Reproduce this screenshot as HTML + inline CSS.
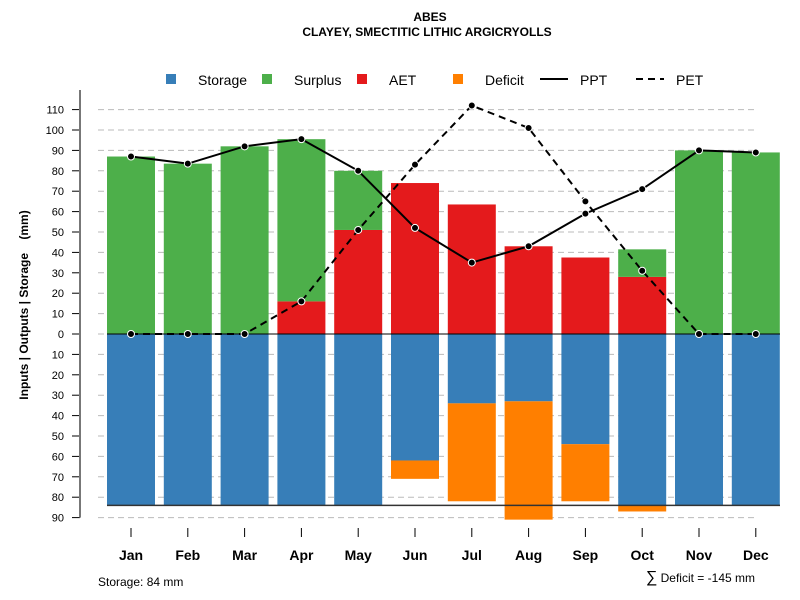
<!DOCTYPE html>
<html><head><meta charset="utf-8"><style>
body{margin:0;background:#fff;}
svg{display:block;font-family:"Liberation Sans",sans-serif;}
</style></head><body>
<svg id="chart" width="800" height="600">
<text x="430" y="21" text-anchor="middle" font-size="12" font-weight="bold">ABES</text>
<text x="427" y="36" text-anchor="middle" font-size="12" font-weight="bold">CLAYEY, SMECTITIC LITHIC ARGICRYOLLS</text>
<g id="grid"></g><g id="bars"></g><g id="lines"></g><g id="axes"></g>
<g font-size="14">
<rect x="166" y="74" width="10" height="10" fill="#377eb8"/>
<text x="198" y="85">Storage</text>
<rect x="262" y="74" width="10" height="10" fill="#4daf4a"/>
<text x="294" y="85">Surplus</text>
<rect x="357" y="74" width="10" height="10" fill="#e41a1c"/>
<text x="389" y="85">AET</text>
<rect x="453" y="74" width="10" height="10" fill="#ff7f00"/>
<text x="485" y="85">Deficit</text>
<line x1="540" y1="79" x2="568" y2="79" stroke="#000" stroke-width="2"/>
<text x="580" y="85">PPT</text>
<line x1="636" y1="79" x2="664" y2="79" stroke="#000" stroke-width="2" stroke-dasharray="7,5"/>
<text x="676" y="85">PET</text>
</g>
<text x="28" y="305" transform="rotate(-90 28 305)" text-anchor="middle" font-size="12" font-weight="bold" style="white-space:pre">Inputs | Outputs | Storage    (mm)</text>
<text x="98" y="586" font-size="12">Storage: 84 mm</text>
<text x="755" y="582" text-anchor="end" font-size="12"><tspan font-size="16">∑</tspan> Deficit = -145 mm</text>
</svg>
<script>
const months=["Jan","Feb","Mar","Apr","May","Jun","Jul","Aug","Sep","Oct","Nov","Dec"];
const storage=[84,84,84,84,84,62,34,33,54,84,84,84];
const deficit=[0,0,0,0,0,9,48,58,28,3,0,0];
const aet=[0,0,0,16,51,74,63.5,43,37.5,28,0,0];
const surplus=[87,83.5,92,79.5,29,0,0,0,0,13.5,90,89];
const ppt=[87,83.5,92,95.5,80,52,35,43,59,71,90,89];
const pet=[0,0,0,16,51,83,112,101,65,31,0,0];
const topTicks=[0,10,20,30,40,50,60,70,80,90,100,110];
const botTicks=[10,20,30,40,50,60,70,80,90];
const soilCap=84;
const NS="http://www.w3.org/2000/svg";
const y0=334,k=2.04;
const yUp=v=>y0-v*k, yDn=v=>y0+v*k;
const xc=i=>131+i*56.8, bw=48;
function mk(t,a,p){const e=document.createElementNS(NS,t);for(const q in a)e.setAttribute(q,a[q]);document.getElementById(p).appendChild(e);return e;}
topTicks.forEach(v=>{
 const g=mk("line",{x1:98,x2:755,y1:yUp(v),y2:yUp(v),stroke:"#bbb","stroke-dasharray":"6,4"},"grid");
 
 
 const t=mk("line",{x1:72,x2:80,y1:yUp(v),y2:yUp(v),stroke:"#000"},"axes");
 
 
 const l=mk("text",{x:64,y:yUp(v)+4,"text-anchor":"end","font-size":11},"axes");l.textContent=v;
 
 
});
botTicks.forEach(v=>{
 const g=mk("line",{x1:98,x2:755,y1:yDn(v),y2:yDn(v),stroke:"#bbb","stroke-dasharray":"6,4"},"grid");
 
 
 const t=mk("line",{x1:72,x2:80,y1:yDn(v),y2:yDn(v),stroke:"#000"},"axes");
 
 
 const l=mk("text",{x:64,y:yDn(v)+4,"text-anchor":"end","font-size":11},"axes");l.textContent=v;
 
 
});
const ax=mk("line",{x1:80,x2:80,y1:90,y2:yDn(90),stroke:"#777","stroke-width":2},"axes");


months.forEach((m,i)=>{
 const x=xc(i);
 const r1=mk("rect",{x:x-bw/2,y:y0,width:bw,height:storage[i]*k,fill:"#377eb8"},"bars");
 
 
 if(deficit[i]>0){const r=mk("rect",{x:x-bw/2,y:yDn(storage[i]),width:bw,height:deficit[i]*k,fill:"#ff7f00"},"bars");
 
 }
 if(aet[i]>0){const r=mk("rect",{x:x-bw/2,y:yUp(aet[i]),width:bw,height:aet[i]*k,fill:"#e41a1c"},"bars");
 
 }
 if(surplus[i]>0){const r=mk("rect",{x:x-bw/2,y:yUp(aet[i]+surplus[i]),width:bw,height:surplus[i]*k,fill:"#4daf4a"},"bars");
 
 }
 const t=mk("line",{x1:x,x2:x,y1:528,y2:537,stroke:"#000"},"axes");
 
 
 const l=mk("text",{x:x,y:560,"text-anchor":"middle","font-size":14,"font-weight":"bold"},"axes");l.textContent=m;
 
 
});
const zl=mk("line",{x1:107,x2:780,y1:y0,y2:y0,stroke:"#000"},"lines");


const cl=mk("line",{x1:107,x2:780,y1:yDn(soilCap),y2:yDn(soilCap),stroke:"#333","stroke-width":1.5},"lines");


function series(arr,name,dash){
 const p=mk("polyline",{points:arr.map((v,i)=>xc(i)+","+yUp(v)).join(" "),fill:"none",stroke:"#000","stroke-width":2,"stroke-dasharray":dash},"lines");
 
 
 arr.forEach((v,i)=>{const c=mk("circle",{cx:xc(i),cy:yUp(v),r:3.5,fill:"#000",stroke:"#fff","stroke-width":1},"lines");
 
 });
}
series(pet,"pet","7,5");
series(ppt,"ppt","none");
</script>
</body></html>
